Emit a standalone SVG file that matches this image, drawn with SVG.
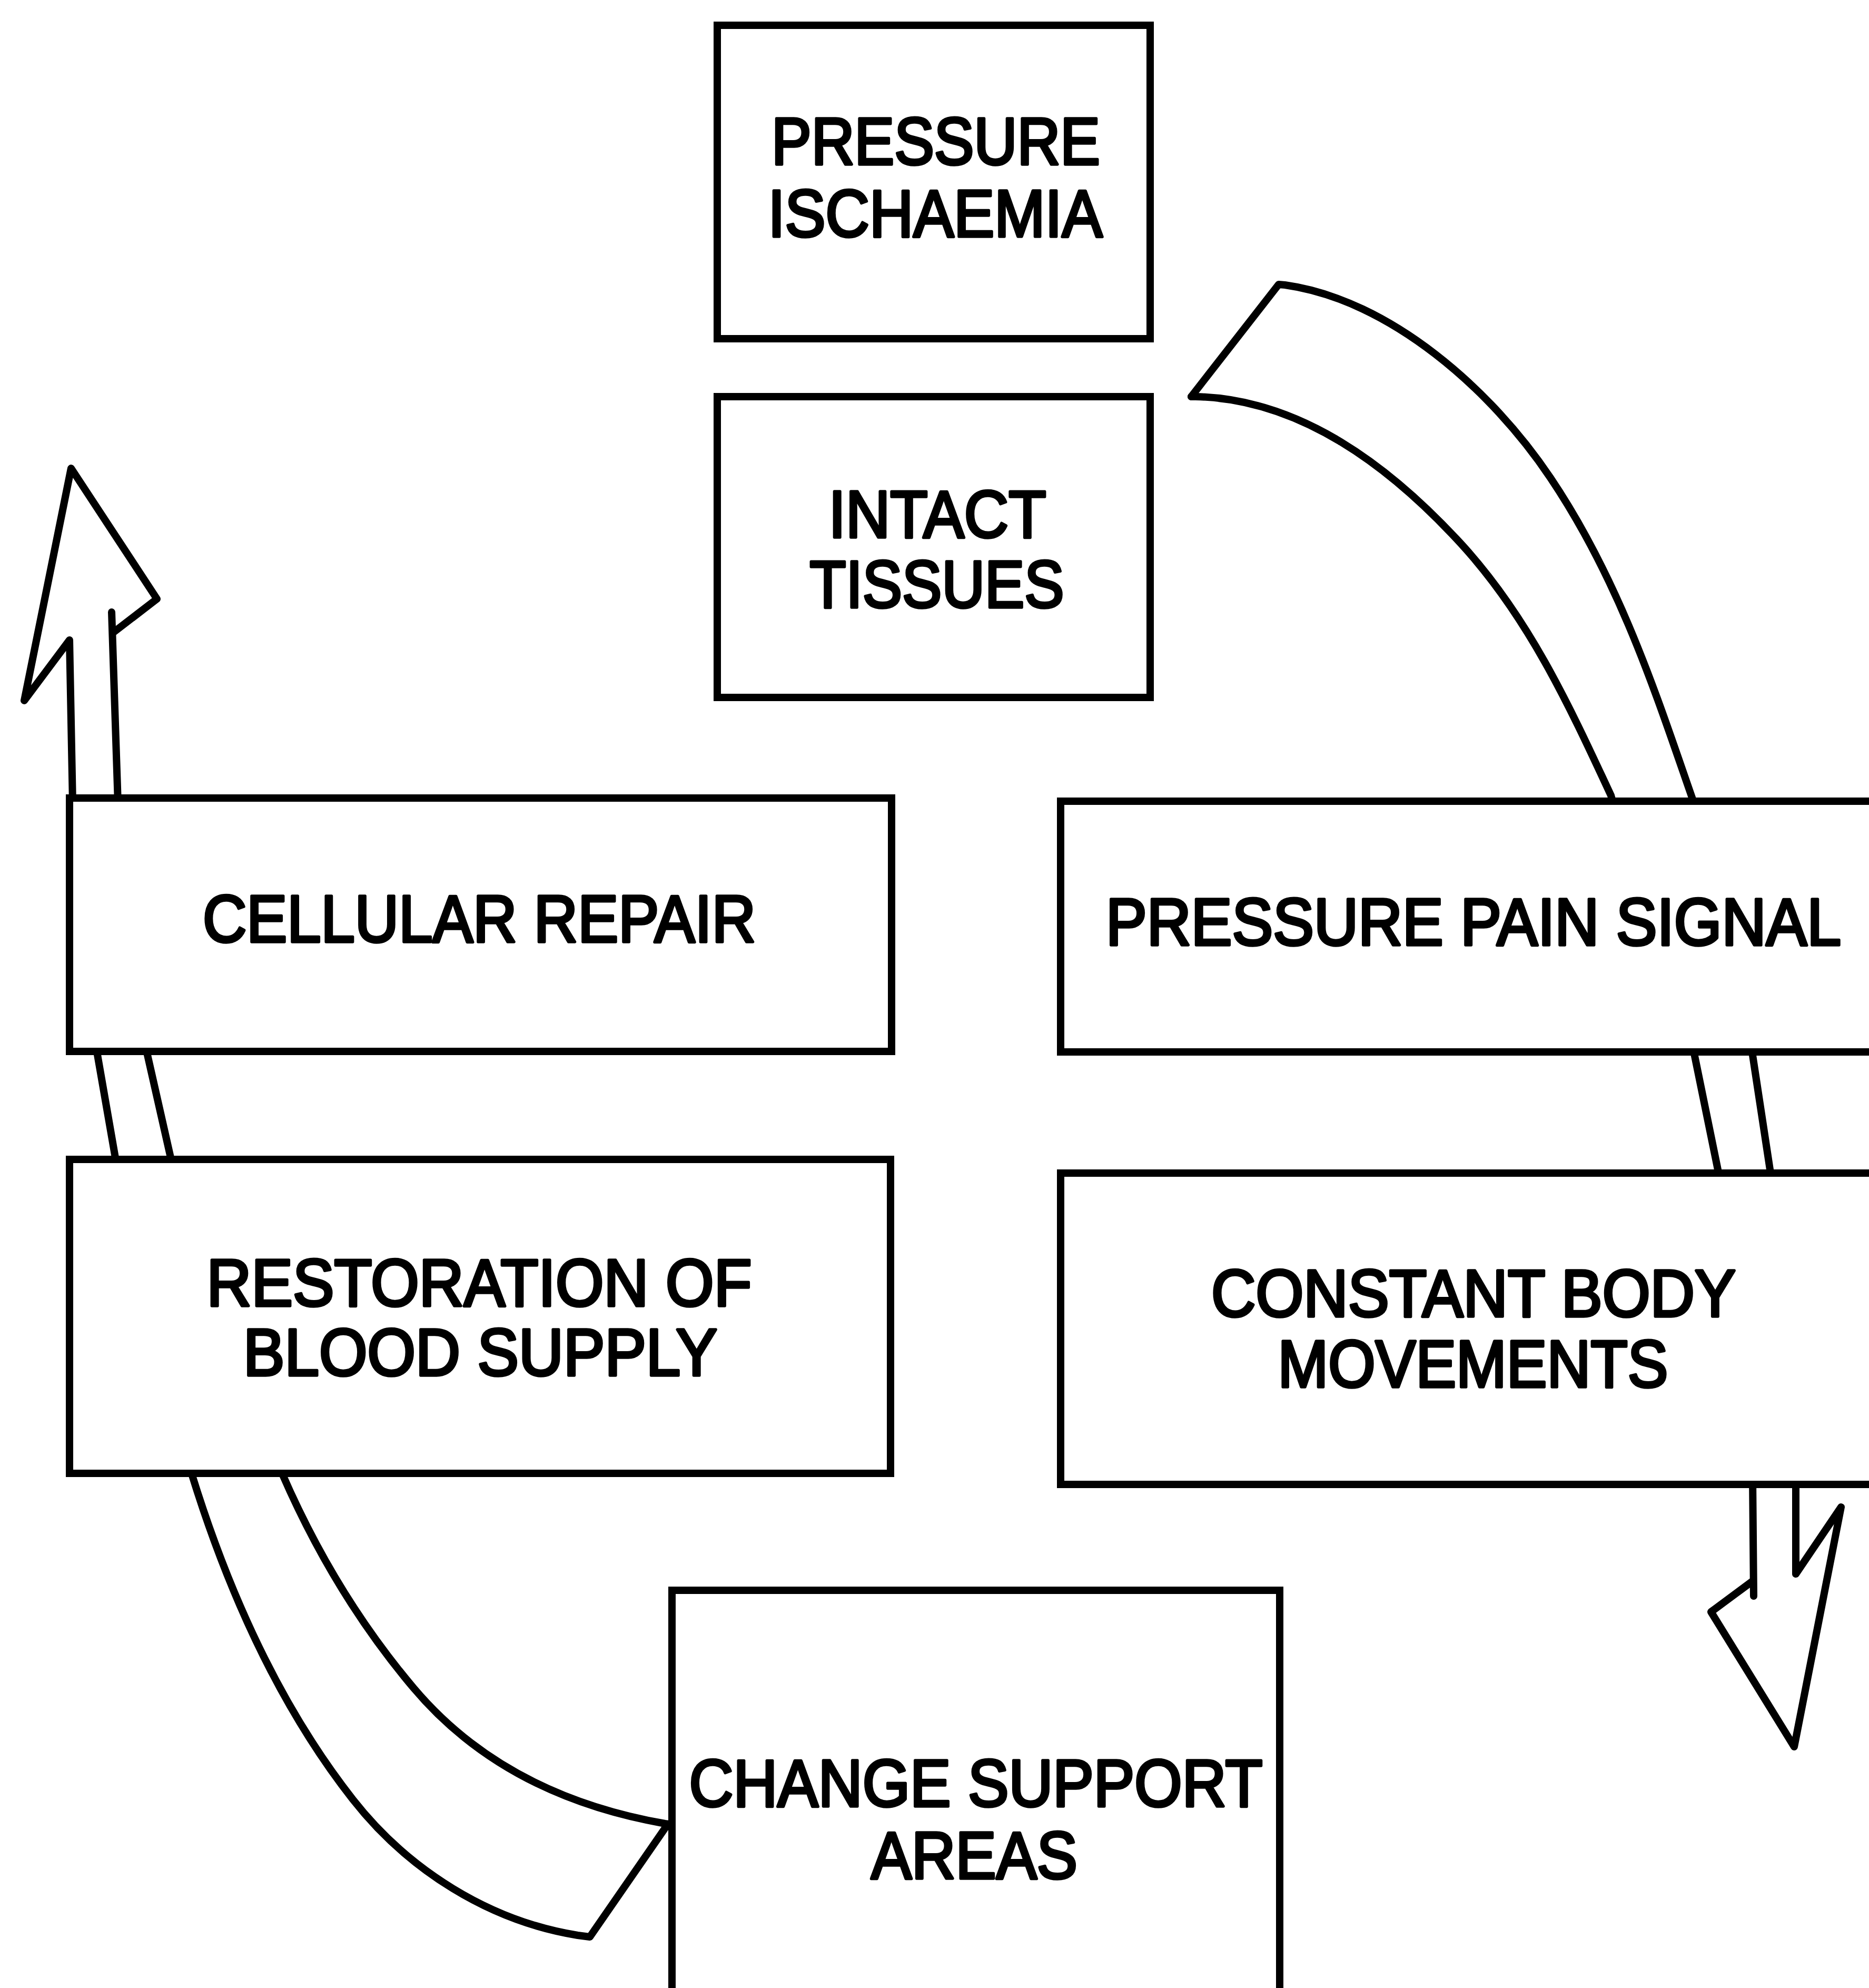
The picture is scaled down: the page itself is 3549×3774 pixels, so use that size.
<svg xmlns="http://www.w3.org/2000/svg" width="3549" height="3774" viewBox="0 0 3549 3774">
<style>
.box{fill:#fff;stroke:#000;stroke-width:14;stroke-linejoin:miter}
.ln{fill:none;stroke:#000;stroke-width:14;stroke-linejoin:round;stroke-linecap:round}
.t{font-family:"Liberation Sans",Arial,Helvetica,sans-serif;font-size:126px;fill:#000;stroke:#000;stroke-width:5.5;stroke-linejoin:round;text-anchor:middle}
</style>
<rect width="3549" height="3774" fill="#fff"/>
<g id="connectors">
  <!-- right curved arrow: intact tissues -> pressure pain signal -> constant body movements -> down -->
  <path class="ln" d="M2262,753 L2428,540 L2440,541 C2640,569 2833,741 2944,907 C3078,1106 3148,1328 3214,1517 L3220,1535"/>
  <path class="ln" d="M2262,753 L2270,753 C2470,757 2640,886 2775,1033 C2903,1173 2979,1338 3059,1510 L3066,1535"/>
  <path class="ln" d="M3215,1990 L3266,2240"/>
  <path class="ln" d="M3326,1990 L3364,2240"/>
  <path class="ln" d="M3328,2805 L3330,3030"/>
  <path class="ln" d="M3326,3003 L3249,3060 L3407,3316 L3496,2861 L3410,2988 L3410,2805"/>
  <!-- left curved arrow: change support areas -> restoration -> cellular repair -> up -->
  <path class="ln" d="M361,2786 L364,2798 C432,3018 528,3235 670,3416 C775,3550 929,3647 1097,3674 L1120,3677 L1266,3466"/>
  <path class="ln" d="M532,2786 L536,2798 C600,2945 682,3082 785,3204 C914,3357 1086,3431 1263,3462 L1272,3463"/>
  <path class="ln" d="M182,1985 L222,2215"/>
  <path class="ln" d="M276,1985 L328,2215"/>
  <path class="ln" d="M138,1525 L132,1215 L46,1330 L135,889 L298,1137 L216,1200"/>
  <path class="ln" d="M212,1162 L224,1525"/>
</g>
<g id="node-pressure-ischaemia">
  <rect class="box" x="1362" y="48" width="822" height="595"/>
  <text class="t" x="1777" y="312" textLength="624" lengthAdjust="spacingAndGlyphs">PRESSURE</text>
  <text class="t" x="1776" y="449" textLength="635" lengthAdjust="spacingAndGlyphs">ISCHAEMIA</text>
</g>
<g id="node-intact-tissues">
  <rect class="box" x="1362" y="753" width="822" height="571"/>
  <text class="t" x="1780" y="1020" textLength="413" lengthAdjust="spacingAndGlyphs">INTACT</text>
  <text class="t" x="1779" y="1153" textLength="483" lengthAdjust="spacingAndGlyphs">TISSUES</text>
</g>
<g id="node-cellular-repair">
  <rect class="box" x="132" y="1515" width="1561" height="481"/>
  <text class="t" x="910" y="1788" textLength="1050" lengthAdjust="spacingAndGlyphs">CELLULAR REPAIR</text>
</g>
<g id="node-restoration">
  <rect class="box" x="132" y="2201" width="1559" height="596"/>
  <text class="t" x="910" y="2479" textLength="1035" lengthAdjust="spacingAndGlyphs">RESTORATION OF</text>
  <text class="t" x="912" y="2611" textLength="900" lengthAdjust="spacingAndGlyphs">BLOOD SUPPLY</text>
</g>
<g id="node-pressure-pain-signal">
  <rect class="box" x="2014" y="1521" width="1560" height="476"/>
  <text class="t" x="2798" y="1794" textLength="1396" lengthAdjust="spacingAndGlyphs">PRESSURE PAIN SIGNAL</text>
</g>
<g id="node-constant-body-movements">
  <rect class="box" x="2014" y="2227" width="1560" height="591"/>
  <text class="t" x="2798" y="2499" textLength="996" lengthAdjust="spacingAndGlyphs">CONSTANT BODY</text>
  <text class="t" x="2797" y="2633" textLength="741" lengthAdjust="spacingAndGlyphs">MOVEMENTS</text>
</g>
<g id="node-change-support-areas">
  <rect class="box" x="1276" y="3019" width="1154" height="790"/>
  <text class="t" x="1853" y="3429" textLength="1089" lengthAdjust="spacingAndGlyphs">CHANGE SUPPORT</text>
  <text class="t" x="1850" y="3566" textLength="392" lengthAdjust="spacingAndGlyphs">AREAS</text>
</g>
</svg>
